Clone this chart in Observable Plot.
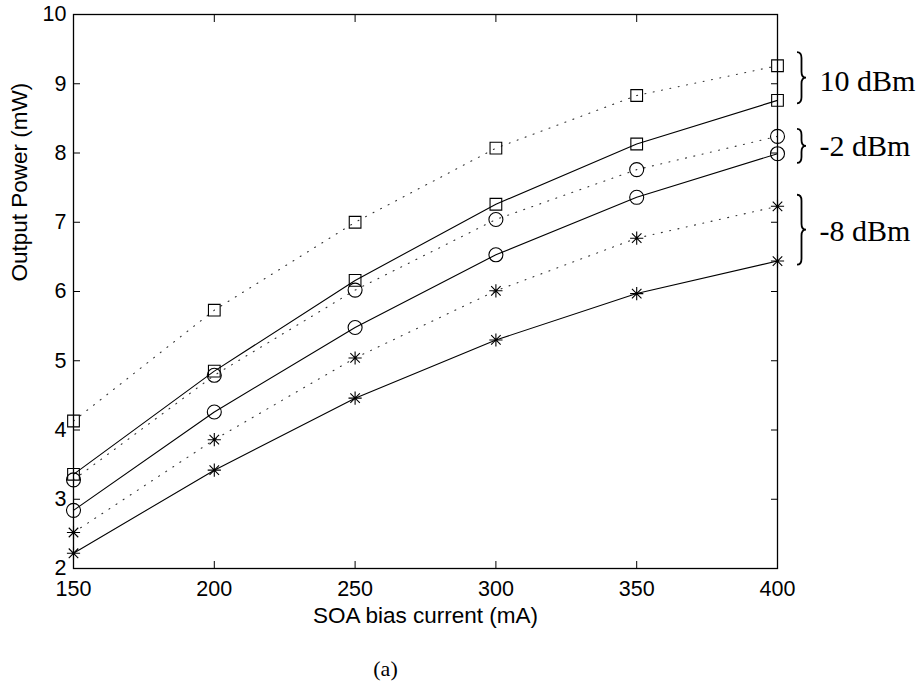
<!DOCTYPE html>
<html><head><meta charset="utf-8">
<script src="https://cdn.jsdelivr.net/npm/d3@7"></script>
<script src="https://cdn.jsdelivr.net/npm/@observablehq/plot@0.6"></script>
<style>body{margin:0;background:#fff}</style>
</head><body><div id="chart"></div>
<script>
// SOA bias current (mA)
const current = [150, 200, 250, 300, 350, 400];
// Output power (mW) per input power, dotted and solid traces
const in10Dotted  = [4.13, 5.73, 7.00, 8.07, 8.83, 9.26];
const in10Solid   = [3.36, 4.85, 6.16, 7.26, 8.13, 8.76];
const inM2Dotted  = [3.28, 4.79, 6.02, 7.04, 7.76, 8.24];
const inM2Solid   = [2.84, 4.26, 5.48, 6.53, 7.36, 7.99];
const inM8Dotted  = [2.52, 3.86, 5.04, 6.01, 6.77, 7.23];
const inM8Solid   = [2.22, 3.42, 4.46, 5.30, 5.97, 6.44];
const xTicks = [150, 200, 250, 300, 350, 400];
const yTicks = [2, 3, 4, 5, 6, 7, 8, 9, 10];
// group annotations (brace extents and label level in mW)
const groupLabels = ["10 dBm", "-2 dBm", "-8 dBm"];
const braceTop    = [9.45, 8.34, 7.39];
const braceBottom = [8.71, 7.85, 6.38];
const labelLevel  = [9.03, 8.09, 6.87];

const asterisk = {
  draw(context, size) {
    const r = Math.sqrt(size / Math.PI), d = r * 0.72;
    context.moveTo(-r, 0); context.lineTo(r, 0);
    context.moveTo(0, -r); context.lineTo(0, r);
    context.moveTo(-d, -d); context.lineTo(d, d);
    context.moveTo(-d, d); context.lineTo(d, -d);
  }
};

const series = [
  {values: in10Dotted, dotted: true,  symbol: "square"},
  {values: in10Solid,  dotted: false, symbol: "square"},
  {values: inM2Dotted, dotted: true,  symbol: "circle"},
  {values: inM2Solid,  dotted: false, symbol: "circle"},
  {values: inM8Dotted, dotted: true,  symbol: asterisk},
  {values: inM8Solid,  dotted: false, symbol: asterisk}
];

const marks = [];
series.forEach((s) => {
  const rows = current.map((c, i) => ({x: c, y: s.values[i]}));
  marks.push(Plot.line(rows, {
    x: "x", y: "y",
    stroke: s.dotted ? "#333" : "#000",
    strokeWidth: 1.1,
    strokeDasharray: s.dotted ? "1 7.5" : null
  }));
  marks.push(Plot.dot(rows, {
    x: "x", y: "y", symbol: () => s.symbol, r: s.symbol === "circle" ? 7 : 6.6,
    stroke: "#000", strokeWidth: 1.1, fill: "none"
  }));
});

function braces(index, scales) {
  const g = d3.create("svg:g");
  const x0 = scales.x(400) + 20, w = 4.5;
  groupLabels.forEach((_, i) => {
    const yt = scales.y(braceTop[i]), yb = scales.y(braceBottom[i]), ym = (yt + yb) / 2;
    const r = Math.min(6, (yb - yt) / 4);
    const p = d3.path();
    p.moveTo(x0, yt);
    p.quadraticCurveTo(x0 + w, yt, x0 + w, yt + r);
    p.lineTo(x0 + w, ym - r);
    p.quadraticCurveTo(x0 + w, ym, x0 + 2 * w, ym);
    p.quadraticCurveTo(x0 + w, ym, x0 + w, ym + r);
    p.lineTo(x0 + w, yb - r);
    p.quadraticCurveTo(x0 + w, yb, x0, yb);
    g.append("path").attr("d", p.toString()).attr("fill", "none")
      .attr("stroke", "#000").attr("stroke-width", 1.8);
  });
  return g.node();
}

const annRows = groupLabels.map((t, i) => ({t, y: labelLevel[i]}));

const chart = Plot.plot({
  width: 922, height: 684,
  marginLeft: 73, marginRight: 145, marginTop: 14, marginBottom: 116,
  style: {fontFamily: "'Liberation Sans', Arial, Helvetica, sans-serif", fontSize: "21.5px", background: "#fff", color: "#000"},
  x: {domain: [150, 400], axis: null},
  y: {domain: [2, 10], axis: null},
  marks: [
    ...marks,
    Plot.frame({stroke: "#000", strokeWidth: 1.3}),
    Plot.axisX({anchor: "bottom", ticks: xTicks, tickSize: -7, tickFormat: () => "", label: null}),
    Plot.axisX({anchor: "top", ticks: xTicks, tickSize: -7, tickFormat: () => "", label: null}),
    Plot.axisY({anchor: "left", ticks: yTicks, tickSize: -7, tickFormat: () => "", label: null}),
    Plot.axisY({anchor: "right", ticks: yTicks, tickSize: -7, tickFormat: () => "", label: null}),
    Plot.axisX({anchor: "bottom", ticks: xTicks, tickSize: 0, tickPadding: 12, label: null, fontSize: 21.5}),
    Plot.axisY({anchor: "left", ticks: yTicks, tickSize: 0, tickPadding: 7, label: null, fontSize: 21.5}),
    Plot.text(["Output Power (mW)"], {frameAnchor: "left", rotate: -90, dx: -54, dy: -10, fontSize: 22.5, text: d => d}),
    Plot.text(["SOA bias current (mA)"], {frameAnchor: "bottom", lineAnchor: "bottom", dy: 54, fontSize: 22.5, text: d => d}),
    Plot.text(["(a)"], {frameAnchor: "bottom", lineAnchor: "bottom", dx: -40, dy: 107, fontSize: 22, fontFamily: "'Liberation Serif', 'DejaVu Serif', serif", text: d => d}),
    braces,
    Plot.text(annRows, {x: () => 400, y: "y", text: "t", dx: 42, textAnchor: "start", fontSize: 30, fontFamily: "'Liberation Serif', 'DejaVu Serif', serif"})
  ]
});
document.getElementById("chart").appendChild(chart);
</script>
</body></html>
